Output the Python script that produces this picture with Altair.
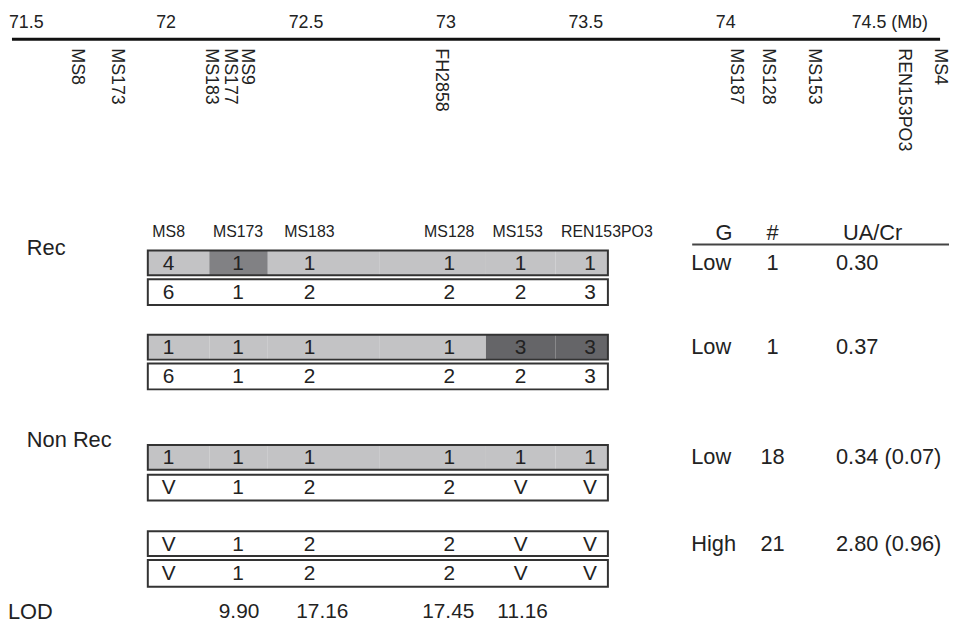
import altair as alt
import pandas as pd

# ---------------- data ----------------
mb_ticks = [71.5, 72.0, 72.5, 73.0, 73.5, 74.0]
mb_tick_labels = ["71.5", "72", "72.5", "73", "73.5", "74"]
mb_last_tick = [74.5]
mb_last_label = ["74.5 (Mb)"]

markers = ["MS8", "MS173", "MS183", "MS177", "MS9", "FH2858",
           "MS187", "MS128", "MS153", "REN153PO3", "MS4"]
marker_mb = [71.683, 71.826, 72.161, 72.229, 72.289, 72.983,
             74.036, 74.153, 74.316, 74.639, 74.766]

hap_markers = ["MS8", "MS173", "MS183", "MS128", "MS153", "REN153PO3"]
hap_alleles = [
    ["4", "1", "1", "1", "1", "1"],
    ["6", "1", "2", "2", "2", "3"],
    ["1", "1", "1", "1", "3", "3"],
    ["6", "1", "2", "2", "2", "3"],
    ["1", "1", "1", "1", "1", "1"],
    ["V", "1", "2", "2", "V", "V"],
    ["V", "1", "2", "2", "V", "V"],
    ["V", "1", "2", "2", "V", "V"],
]
hap_shade = [
    ["L", "M", "L", "L", "L", "L"],
    ["W", "W", "W", "W", "W", "W"],
    ["L", "L", "L", "L", "D", "D"],
    ["W", "W", "W", "W", "W", "W"],
    ["L", "L", "L", "L", "L", "L"],
    ["W", "W", "W", "W", "W", "W"],
    ["W", "W", "W", "W", "W", "W"],
    ["W", "W", "W", "W", "W", "W"],
]
group_labels = ["Rec", "Non Rec"]
table_header = ["G", "#", "UA/Cr"]
table_G = ["Low", "Low", "Low", "High"]
table_n = ["1", "1", "18", "21"]
table_uacr = ["0.30", "0.37", "0.34 (0.07)", "2.80 (0.96)"]
lod_label = ["LOD"]
lod_values = ["9.90", "17.16", "17.45", "11.16"]

# ---------------- layout ----------------
FONT = "Liberation Sans"
INK = "#222222"
W, H = 941, 609
X0_PX, PX_PER_MB = 26.4, 282.14
mb_lo = 71.5 + (8 - X0_PX) / PX_PER_MB
mb_hi = 71.5 + (8 + W - X0_PX) / PX_PER_MB

XPIX = alt.Scale(domain=[8, 8 + W], nice=False, zero=False)
XMB = alt.Scale(domain=[mb_lo, mb_hi], nice=False, zero=False)
YPIX = alt.Scale(domain=[8, 8 + H], nice=False, zero=False, reverse=True)

CELL_EDGES = [149, 211, 270, 383, 490, 560, 613]
COL_X = [170, 240, 312, 453, 525, 595]
HDR_X = [170, 240, 312, 453, 522, 612]
ROW_TOP = [250, 279, 335, 364, 446, 476, 533, 562]
ROW_BOT = [275, 305, 360, 390, 471, 502, 558, 589]
GROUP_ROW = [0, 2, 4, 6]
LOD_X = [241, 325, 452, 527]


def px(v):
    return alt.X(v, scale=XPIX, axis=None)


def py(v):
    return alt.Y(v, scale=YPIX, axis=None)


# top Mb track
track_line = alt.Chart(pd.DataFrame({"x": [12], "x2": [948], "y": [37]})).mark_rule(
    color="#111111", strokeWidth=3
).encode(x=px("x:Q"), x2="x2:Q", y=py("y:Q"))

tick_df = pd.DataFrame({"mb": mb_ticks, "lab": mb_tick_labels, "y": [21] * len(mb_ticks)})
tick_text = alt.Chart(tick_df).mark_text(
    font=FONT, fontSize=18, color=INK, align="center", baseline="middle"
).encode(x=alt.X("mb:Q", scale=XMB, axis=None), y=py("y:Q"), text="lab:N")

last_df = pd.DataFrame({"mb": mb_last_tick, "lab": mb_last_label, "y": [21]})
last_text = alt.Chart(last_df).mark_text(
    font=FONT, fontSize=18, color=INK, align="left", baseline="middle", dx=-14
).encode(x=alt.X("mb:Q", scale=XMB, axis=None), y=py("y:Q"), text="lab:N")

mk_df = pd.DataFrame({"mb": marker_mb, "lab": markers, "y": [46] * len(markers)})
marker_text = alt.Chart(mk_df).mark_text(
    font=FONT, fontSize=18, color=INK, align="left", baseline="middle", angle=90
).encode(x=alt.X("mb:Q", scale=XMB, axis=None), y=py("y:Q"), text="lab:N")

# haplotype cells
cells = []
for r, row in enumerate(hap_alleles):
    for c, a in enumerate(row):
        cells.append({
            "x": CELL_EDGES[c], "x2": CELL_EDGES[c + 1],
            "y": ROW_TOP[r], "y2": ROW_BOT[r],
            "shade": hap_shade[r][c], "allele": a,
            "tx": COL_X[c], "ty": (ROW_TOP[r] + ROW_BOT[r]) / 2 + 1,
        })
cells_df = pd.DataFrame(cells)

cell_rect = alt.Chart(cells_df).mark_rect().encode(
    x=px("x:Q"), x2="x2:Q", y=py("y:Q"), y2="y2:Q",
    color=alt.Color("shade:N", legend=None, scale=alt.Scale(
        domain=["W", "L", "M", "D"],
        range=["#ffffff", "#c3c3c5", "#818184", "#656568"])),
)
cell_text = alt.Chart(cells_df).mark_text(
    font=FONT, fontSize=21, color=INK, align="center", baseline="middle"
).encode(x=px("tx:Q"), y=py("ty:Q"), text="allele:N")

box_df = pd.DataFrame({"x": [CELL_EDGES[0]] * len(ROW_TOP), "x2": [CELL_EDGES[-1]] * len(ROW_TOP),
                       "y": ROW_TOP, "y2": ROW_BOT})
box_outline = alt.Chart(box_df).mark_rect(
    fillOpacity=0, stroke="#333333", strokeWidth=2
).encode(x=px("x:Q"), x2="x2:Q", y=py("y:Q"), y2="y2:Q")

hdr_df = pd.DataFrame({"x": HDR_X, "lab": hap_markers, "y": [231] * len(HDR_X)})
hdr_text = alt.Chart(hdr_df).mark_text(
    font=FONT, fontSize=16, color=INK, align="center", baseline="middle"
).encode(x=px("x:Q"), y=py("y:Q"), text="lab:N")

grp_df = pd.DataFrame({"x": [27, 27], "y": [247, 441], "lab": group_labels})
grp_text = alt.Chart(grp_df).mark_text(
    font=FONT, fontSize=22, color=INK, align="left", baseline="middle"
).encode(x=px("x:Q"), y=py("y:Q"), text="lab:N")

# right table
th_df = pd.DataFrame({"x": [730, 779, 880], "y": [232] * 3, "lab": table_header})
th_text = alt.Chart(th_df).mark_text(
    font=FONT, fontSize=22, color=INK, align="center", baseline="middle"
).encode(x=px("x:Q"), y=py("y:Q"), text="lab:N")
th_rule = alt.Chart(pd.DataFrame({"x": [698], "x2": [957], "y": [244]})).mark_rule(
    color="#444444", strokeWidth=2
).encode(x=px("x:Q"), x2="x2:Q", y=py("y:Q"))

row_y = [(ROW_TOP[i] + ROW_BOT[i]) / 2 for i in GROUP_ROW]
tab_df = pd.DataFrame({"g": table_G, "n": table_n, "u": table_uacr, "y": row_y,
                       "xg": [697] * 4, "xn": [779] * 4, "xu": [843] * 4})
tab_g = alt.Chart(tab_df).mark_text(
    font=FONT, fontSize=22, color=INK, align="left", baseline="middle"
).encode(x=px("xg:Q"), y=py("y:Q"), text="g:N")
tab_n = alt.Chart(tab_df).mark_text(
    font=FONT, fontSize=22, color=INK, align="center", baseline="middle"
).encode(x=px("xn:Q"), y=py("y:Q"), text="n:N")
tab_u = alt.Chart(tab_df).mark_text(
    font=FONT, fontSize=22, color=INK, align="left", baseline="middle"
).encode(x=px("xu:Q"), y=py("y:Q"), text="u:N")

# LOD row
lodl_df = pd.DataFrame({"x": [8], "y": [615], "lab": lod_label})
lod_l = alt.Chart(lodl_df).mark_text(
    font=FONT, fontSize=22, color=INK, align="left", baseline="middle"
).encode(x=px("x:Q"), y=py("y:Q"), text="lab:N")
lodv_df = pd.DataFrame({"x": LOD_X, "y": [615] * 4, "lab": lod_values})
lod_v = alt.Chart(lodv_df).mark_text(
    font=FONT, fontSize=21, color=INK, align="center", baseline="middle"
).encode(x=px("x:Q"), y=py("y:Q"), text="lab:N")

chart = alt.layer(
    track_line, tick_text, last_text, marker_text,
    cell_rect, cell_text, box_outline, hdr_text, grp_text,
    th_text, th_rule, tab_g, tab_n, tab_u, lod_l, lod_v,
).resolve_scale(x="independent").properties(
    width=W, height=H,
    background="white",
    autosize=alt.AutoSizeParams(type="none"),
    padding={"left": 0, "top": 0, "right": 8, "bottom": 8},
).configure_view(stroke=None)

chart.save("out.html", embed_options={"renderer": "svg", "actions": False})
